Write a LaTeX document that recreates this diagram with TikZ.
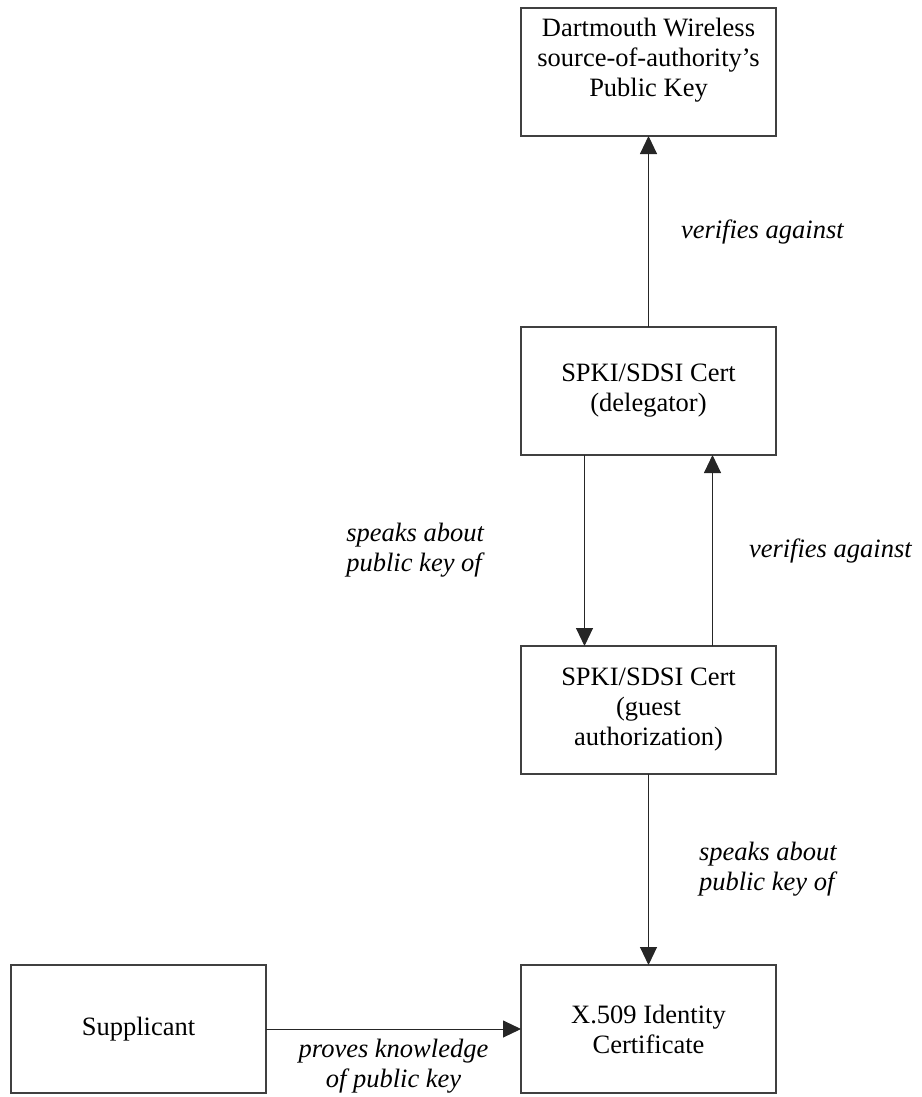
\documentclass[tikz,border=0pt]{standalone}
\usepackage{fontspec}
\setmainfont{Liberation Serif}
\usetikzlibrary{positioning,arrows.meta}

\begin{document}
\begin{tikzpicture}[font=\fontsize{13.25pt}{15pt}\selectfont, node distance=95.5pt,
  box/.style={draw=black!75, line width=0.7pt, align=center, inner sep=0pt, outer sep=0pt,
    minimum width=127.5pt, minimum height=64pt},
  conn/.style={draw=black!85, line width=0.5pt, -{Triangle[length=9pt,width=8.5pt]}},
  lbl/.style={font=\fontsize{13.25pt}{15pt}\selectfont\itshape, align=left, inner sep=0pt}]
\useasboundingbox (0,0) rectangle (460.5pt,-548.5pt);
\node[box] (dwkey) at (324.25pt,-36pt) {Dartmouth Wireless\\source-of-authority's\\Public Key\\ \mbox{}};
\node[box, below=of dwkey] (deleg) {SPKI/SDSI Cert\\(delegator)};
\node[box, below=of deleg] (guest) {SPKI/SDSI Cert\\(guest\\authorization)};
\node[box, below=of guest] (x509) {X.509 Identity\\Certificate};
\node[box, left=127.5pt of x509] (supp) {Supplicant};
% connectors
\draw[conn] (deleg) -- node[lbl, midway, right=16pt] {verifies against} (dwkey);
\draw[conn] ([xshift=-32pt]deleg.south) -- node[lbl, midway, left=50pt] {speaks about\\public key of} ([xshift=-32pt]guest.north);
\draw[conn] ([xshift=32pt]guest.north) -- node[lbl, midway, right=18pt] {verifies against} ([xshift=32pt]deleg.south);
\draw[conn] (guest) -- node[lbl, midway, right=25pt] {speaks about\\public key of} (x509);
\draw[conn] (supp) -- node[lbl, align=center, midway, below=5pt] {proves knowledge\\of public key} (x509);
\end{tikzpicture}
\end{document}
